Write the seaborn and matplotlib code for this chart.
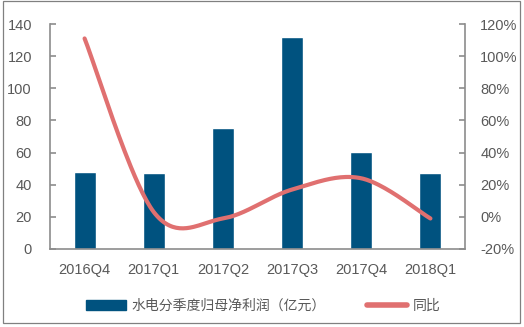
import numpy as np
import pandas as pd
import seaborn as sns
import matplotlib
matplotlib.use("Agg")
import matplotlib.pyplot as plt
from matplotlib.patches import Rectangle, Patch
from matplotlib.lines import Line2D

# Quarterly hydropower net profit attributable to parent (100m CNY) and YoY growth (%)
quarters = ["2016Q4", "2017Q1", "2017Q2", "2017Q3", "2017Q4", "2018Q1"]
profit = [48, 47, 75.5, 132, 60.5, 47]
yoy = [111, 3, -1, 17, 24, -1]
left_ticks = [0, 20, 40, 60, 80, 100, 120, 140]
right_ticks = [-20, 0, 20, 40, 60, 80, 100, 120]
bar_label = "水电分季度归母净利润（亿元）"
line_label = "同比"

BAR_COLOR = "#00527f"
LINE_COLOR = "#e07070"
GRAY = "#8c8c8c"
TEXT = "#595959"

sns.set_theme(style="white")
plt.rcParams["font.family"] = ["Liberation Sans", "Noto Sans CJK SC", "DejaVu Sans"]


def smooth_curve(y, steps=40):
    """Catmull-Rom style Bezier smoothing through every point."""
    y = np.asarray(y, dtype=float)
    n = len(y)
    x = np.arange(n, dtype=float)
    xs, ys = [], []
    for i in range(n - 1):
        p0 = y[i - 1] if i > 0 else y[i]
        p3 = y[i + 2] if i + 2 < n else y[i + 1]
        x0 = x[i - 1] if i > 0 else x[i]
        x3 = x[i + 2] if i + 2 < n else x[i + 1]
        c1y = y[i] + (y[i + 1] - p0) / 6
        c2y = y[i + 1] - (p3 - y[i]) / 6
        c1x = x[i] + (x[i + 1] - x0) / 6
        c2x = x[i + 1] - (x3 - x[i]) / 6
        t = np.linspace(0, 1, steps, endpoint=(i == n - 2))
        b0, b1, b2, b3 = (1 - t) ** 3, 3 * (1 - t) ** 2 * t, 3 * (1 - t) * t ** 2, t ** 3
        xs.append(b0 * x[i] + b1 * c1x + b2 * c2x + b3 * x[i + 1])
        ys.append(b0 * y[i] + b1 * c1y + b2 * c2y + b3 * y[i + 1])
    return np.concatenate(xs), np.concatenate(ys)


fig = plt.figure(figsize=(5.24, 3.27), dpi=100)
ax = fig.add_axes([50 / 524, 1 - 249 / 327, 415 / 524, 225 / 327])

df = pd.DataFrame({"quarter": quarters, "profit": profit})
sns.barplot(data=df, x="quarter", y="profit", color=BAR_COLOR, width=0.32,
            saturation=1, ax=ax)
ax.set_ylim(0, 140)
ax.set_xlim(-0.5, len(quarters) - 0.5)
ax.set_yticks(left_ticks)
ax.set_xlabel("")
ax.set_ylabel("")

ax2 = ax.twinx()
sx, sy = smooth_curve(yoy)
sns.lineplot(x=sx, y=sy, sort=False, estimator=None, color=LINE_COLOR,
             linewidth=3.0, ax=ax2)
ax2.lines[0].set_solid_capstyle("round")
ax2.set_ylim(-20, 120)
ax2.set_yticks(right_ticks)
ax2.set_yticklabels([f"{v}%" for v in right_ticks])
ax2.set_ylabel("")

for a in (ax, ax2):
    for side in ("left", "right", "bottom"):
        a.spines[side].set_color(GRAY)
        a.spines[side].set_linewidth(1.2)
    a.spines["top"].set_visible(False)

ax.spines["right"].set_visible(False)
ax2.spines["left"].set_visible(False)
ax2.spines["bottom"].set_visible(False)

ax.tick_params(axis="y", direction="in", length=4, width=1.2, color=GRAY,
               labelcolor=TEXT, labelsize=10.5, pad=13, left=True)
ax.tick_params(axis="x", length=0, labelcolor=TEXT, labelsize=10.5, pad=10)
ax2.tick_params(axis="y", direction="in", length=4, width=1.2, color=GRAY,
                labelcolor=TEXT, labelsize=10.5, pad=11, right=True)

handles = [
    Patch(facecolor=BAR_COLOR, edgecolor=BAR_COLOR),
    Line2D([0], [0], color=LINE_COLOR, linewidth=4, solid_capstyle="round"),
]
leg = fig.legend(handles, [bar_label, line_label], loc="center",
                 bbox_to_anchor=(0.502, 1 - 306 / 327), ncol=2, frameon=False,
                 handlelength=2.9, handleheight=0.8, handletextpad=0.36,
                 columnspacing=3.0, prop={"family": ["Noto Sans CJK SC"], "size": 10})
for t in leg.get_texts():
    t.set_color(TEXT)

fig.patches.append(Rectangle((3 / 524, 1 - 323 / 327), 517 / 524, 322 / 327,
                             transform=fig.transFigure, fill=False,
                             edgecolor="#808080", linewidth=0.9))

fig.savefig("out.png", dpi=100)
